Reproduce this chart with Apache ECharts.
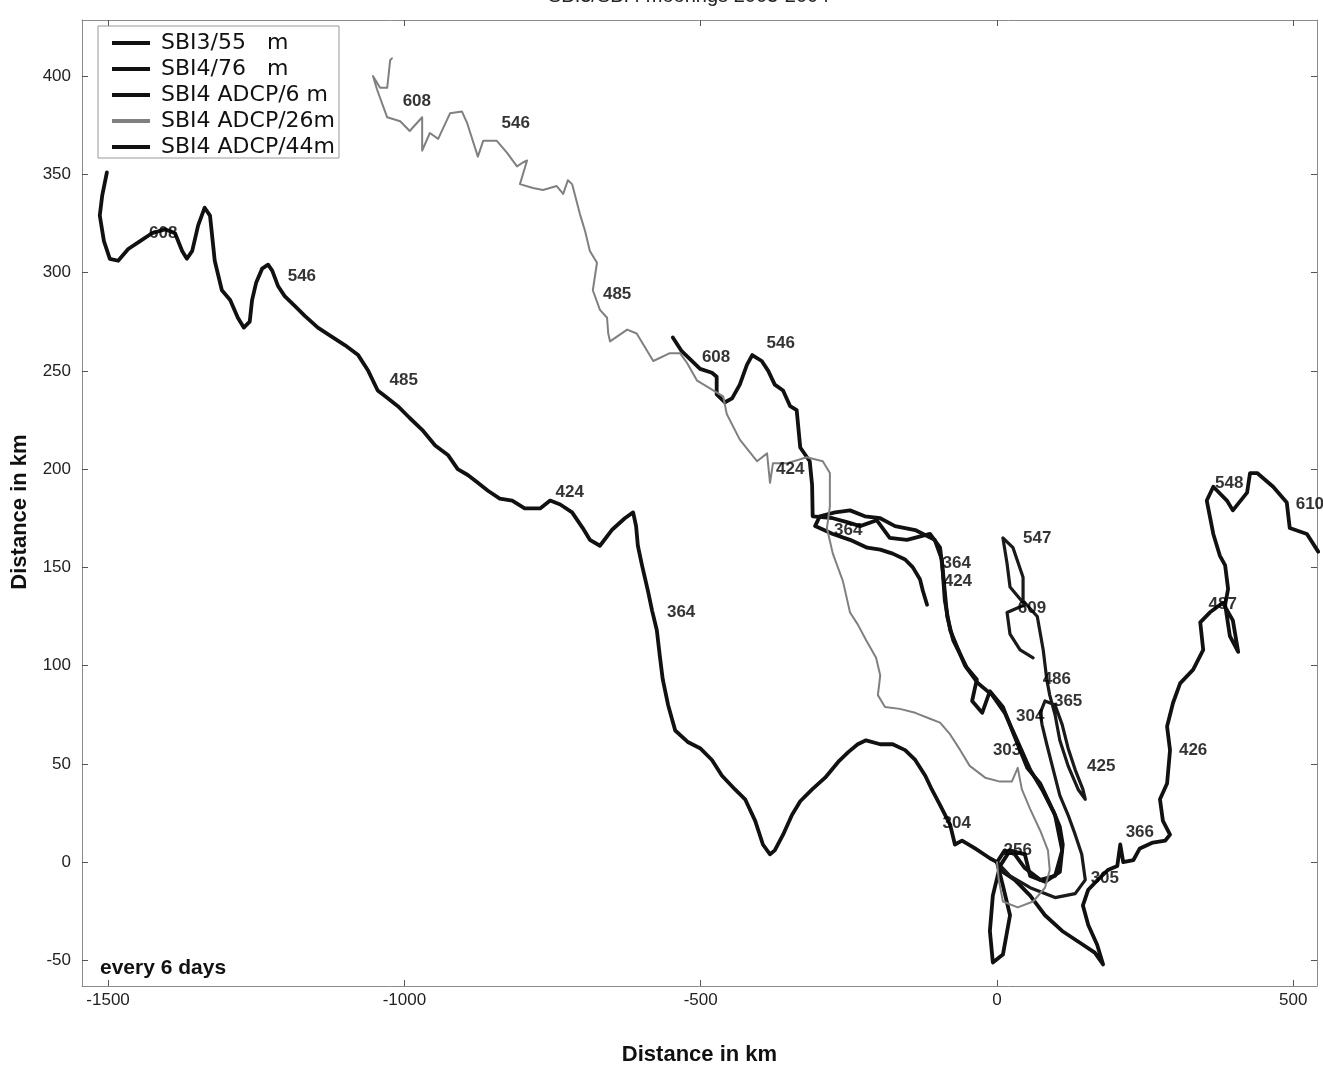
<!DOCTYPE html>
<html>
<head>
<meta charset="utf-8">
<title>Progressive vector diagram</title>
<script src="https://cdn.jsdelivr.net/npm/echarts@6/dist/echarts.min.js"></script>
<style>
  html, body { margin: 0; padding: 0; background: #fff; }
  #chart { width: 1323px; height: 1065px; }
</style>
</head>
<body>
<div id="chart"></div>
<script>
// Tick positions (km)
const xTicks = [-1500, -1000, -500, 0, 500];
const yTicks = [-50, 0, 50, 100, 150, 200, 250, 300, 350, 400];

// Series names in legend order
const trackNames = ['SBI3/55   m', 'SBI4/76   m', 'SBI4 ADCP/6 m', 'SBI4 ADCP/26m', 'SBI4 ADCP/44m'];

// Progressive vector tracks, [east km, north km], starting at the mooring
const sbi3_55 = [[0,0],[10,-5],[30,-9],[56,-17],[81,-27],[110,-35],[140,-41],[165,-46],[179,-52],[169,-42],[154,-32],[145,-22],[154,-14],[170,-9],[187,-4],[203,-2],[208,9],[213,0],[230,1],[241,7],[263,10],[284,11],[292,14],[280,21],[275,32],[287,40],[292,57],[287,69],[297,81],[309,91],[331,98],[348,108],[343,122],[359,127],[381,132],[398,123],[407,107],[393,115],[385,131],[390,139],[385,151],[376,156],[365,167],[354,184],[365,191],[388,184],[398,179],[422,188],[427,198],[439,198],[466,191],[489,183],[494,170],[523,167],[542,158]];

const sbi4_76 = [[0,0],[22,-7],[56,-13],[98,-18],[132,-16],[149,-9],[143,4],[132,14],[120,24],[106,34],[95,47],[84,60],[76,70],[73,76],[81,82],[98,80],[110,70],[120,58],[132,47],[145,37],[149,32],[137,37],[120,49],[106,62],[98,75],[89,85],[84,93],[78,108],[68,125],[44,133],[44,145],[27,160],[10,165],[17,152],[22,140],[47,131],[17,127],[22,116],[39,108],[61,104]];

const adcp_6 = [[0,0],[-12,2],[-37,7],[-59,11],[-71,9],[-79,19],[-96,29],[-110,37],[-121,44],[-138,52],[-155,57],[-176,60],[-197,60],[-221,62],[-235,60],[-251,56],[-268,51],[-290,43],[-312,37],[-332,31],[-346,24],[-361,14],[-375,6],[-383,4],[-395,9],[-408,21],[-425,32],[-442,37],[-464,44],[-481,52],[-501,58],[-521,61],[-543,67],[-555,80],[-564,93],[-569,105],[-574,118],[-582,128],[-589,138],[-599,151],[-606,161],[-609,171],[-614,178],[-628,175],[-650,169],[-670,161],[-687,164],[-699,170],[-717,178],[-737,182],[-754,184],[-771,180],[-797,180],[-818,184],[-839,185],[-859,189],[-876,193],[-893,197],[-910,200],[-926,207],[-948,212],[-970,220],[-991,226],[-1011,232],[-1028,236],[-1045,240],[-1061,250],[-1078,258],[-1100,263],[-1126,268],[-1146,272],[-1168,278],[-1185,283],[-1202,288],[-1213,293],[-1223,301],[-1230,304],[-1240,302],[-1250,295],[-1257,286],[-1261,275],[-1271,272],[-1281,277],[-1294,286],[-1308,291],[-1320,306],[-1328,329],[-1337,333],[-1348,324],[-1358,311],[-1367,307],[-1375,311],[-1387,320],[-1404,322],[-1426,320],[-1446,316],[-1466,312],[-1483,306],[-1497,307],[-1507,316],[-1514,329],[-1510,339],[-1502,351]];

const adcp_26 = [[0,0],[3,-9],[10,-20],[35,-23],[61,-20],[81,-13],[89,-4],[86,6],[73,16],[56,27],[42,37],[35,48],[25,41],[5,41],[-20,43],[-46,49],[-62,57],[-79,65],[-96,71],[-113,73],[-138,76],[-164,78],[-189,79],[-201,85],[-197,95],[-204,104],[-221,113],[-235,121],[-248,127],[-260,143],[-277,157],[-287,170],[-282,181],[-282,198],[-294,204],[-321,206],[-354,203],[-378,203],[-383,193],[-388,208],[-405,204],[-434,215],[-456,228],[-462,237],[-506,245],[-523,254],[-535,259],[-552,259],[-580,255],[-608,269],[-624,271],[-653,265],[-656,269],[-658,277],[-670,281],[-682,291],[-675,305],[-687,311],[-695,321],[-704,330],[-717,345],[-724,347],[-732,340],[-743,344],[-766,342],[-783,343],[-805,345],[-793,357],[-800,356],[-810,354],[-827,361],[-844,367],[-867,367],[-876,359],[-894,376],[-903,382],[-923,381],[-943,368],[-957,371],[-970,362],[-970,379],[-991,372],[-1007,377],[-1029,379],[-1046,393],[-1053,400],[-1041,394],[-1029,394],[-1024,408],[-1021,409]];

const adcp_44 = [[0,0],[10,-12],[22,-27],[10,-47],[-7,-51],[-12,-35],[-7,-17],[5,-2],[22,6],[47,4],[56,-7],[81,-10],[106,-5],[111,9],[106,18],[95,26],[73,40],[51,48],[27,66],[10,79],[-12,87],[-25,76],[-42,82],[-34,93],[-51,99],[-74,113],[-84,125],[-91,147],[-96,160],[-113,167],[-152,164],[-181,165],[-203,174],[-231,171],[-253,173],[-277,175],[-311,176],[-312,192],[-316,204],[-332,211],[-338,230],[-349,232],[-361,240],[-375,243],[-386,250],[-397,255],[-413,258],[-422,253],[-434,243],[-447,236],[-459,234],[-473,238],[-473,247],[-481,249],[-501,251],[-518,256],[-532,260],[-547,267]];

const sbi4_extra = [[0,0],[13,6],[30,4],[47,-3],[73,-9],[98,-7],[110,6],[98,24],[76,37],[56,47],[34,62],[13,76],[-8,85],[-32,91],[-54,100],[-79,118],[-88,133],[-93,154],[-105,164],[-138,169],[-172,171],[-197,175],[-223,176],[-248,179],[-273,178],[-299,176],[-307,171],[-277,167],[-248,164],[-219,160],[-197,159],[-176,157],[-155,154],[-142,150],[-130,144],[-125,138],[-118,131]];

// Year-day annotations along each track, [east km, north km, day]
const daysSbi3_55 = [[182,-8,'305'],[241,15,'366'],[331,57,'426'],[381,131,'487'],[392,193,'548'],[528,182,'610']];
const daysSbi4_76 = [[56,74,'304'],[120,82,'365'],[176,49,'425'],[101,93,'486'],[68,165,'547'],[59,129,'609']];
const daysAdcp6 = [[-68,20,'304'],[-533,127,'364'],[-721,188,'424'],[-1001,245,'485'],[-1173,298,'546'],[-1407,320,'608']];
const daysAdcp26 = [[17,57,'303'],[-349,200,'424'],[-641,289,'485'],[-812,376,'546'],[-979,387,'608']];
const daysAdcp44 = [[35,6,'256'],[-68,152,'364'],[-365,264,'546'],[-474,257,'608']];
const daysExtra = [[-251,169,'364'],[-66,143,'424']];

const FONT = '"Liberation Sans", Arial, Helvetica, sans-serif';
const WIDE = '"DejaVu Sans", "Liberation Sans", sans-serif';

function track(name, data, color, width, z) {
  return {
    name: name, type: 'line', data: data, symbol: 'none', z: z,
    lineStyle: { color: color, width: width, join: 'round', cap: 'round' },
    itemStyle: { color: color },
    animation: false, silent: true
  };
}
function dayLabels(data) {
  return {
    type: 'scatter', data: data, symbolSize: 0, z: 6,
    label: {
      show: true, position: 'inside', formatter: p => p.value[2],
      fontFamily: FONT, fontWeight: 'bold', fontSize: 17, color: '#000'
    },
    animation: false, silent: true
  };
}

const axisLine = { show: true, onZero: false, lineStyle: { color: '#8a8a8a', width: 1 } };
const tick = v => ({ show: true, inside: true, length: 6, customValues: v, lineStyle: { color: '#555' } });
const plain = v => String(v);

const chart = echarts.init(document.getElementById('chart'), null, { renderer: 'canvas' });
chart.setOption({
  backgroundColor: '#fff',
  animation: false,
  title: {
    text: 'SBI3/SBI4 moorings 2003-2004',
    left: 543, top: -19,
    textStyle: { fontFamily: FONT, fontSize: 20, fontWeight: 'normal', color: '#222' }
  },
  grid: { left: 82, right: 6, top: 20, bottom: 79, containLabel: false, outerBoundsMode: 'none' },
  legend: {
    data: trackNames.map((n, i) => ({ name: n, itemStyle: { color: i === 3 ? '#808080' : '#111' } })),
    orient: 'vertical', left: 98, top: 26,
    padding: [6, 4, 0, 14],
    icon: 'rect', itemWidth: 38, itemHeight: 4, itemGap: 4,
    backgroundColor: '#fff', borderColor: '#999', borderWidth: 1,
    textStyle: { fontFamily: WIDE, fontSize: 22, color: '#111', padding: [0, 0, 0, 6] },
    selectedMode: false
  },
  xAxis: [
    {
      type: 'value', min: -1544, max: 540, position: 'bottom',
      axisLine: axisLine, axisTick: tick(xTicks), splitLine: { show: false },
      axisLabel: { customValues: xTicks, formatter: plain, fontFamily: FONT, fontSize: 17, color: '#222', margin: 6 },
      name: 'Distance in km', nameLocation: 'middle', nameGap: 58,
      nameTextStyle: { fontFamily: FONT, fontSize: 22, fontWeight: 'bold', color: '#111' }
    },
    {
      type: 'value', min: -1544, max: 540, position: 'top',
      axisLine: axisLine, axisTick: tick(xTicks), splitLine: { show: false },
      axisLabel: { show: false }
    }
  ],
  yAxis: [
    {
      type: 'value', min: -63, max: 428.5, position: 'left',
      axisLine: axisLine, axisTick: tick(yTicks), splitLine: { show: false },
      axisLabel: { customValues: yTicks, formatter: plain, fontFamily: FONT, fontSize: 17, color: '#222', margin: 11 },
      name: 'Distance in km', nameLocation: 'middle', nameGap: 51, nameRotate: 90,
      nameTextStyle: { fontFamily: FONT, fontSize: 22, fontWeight: 'bold', color: '#111', padding: [0, 18, 0, 0] }
    },
    {
      type: 'value', min: -63, max: 428.5, position: 'right',
      axisLine: axisLine, axisTick: tick(yTicks), splitLine: { show: false },
      axisLabel: { show: false }
    }
  ],
  graphic: [
    {
      type: 'text', left: 100, top: 958, z: 10,
      style: { text: 'every 6 days', font: 'bold 21px ' + FONT, fill: '#111' }
    }
  ],
  series: [
    track(trackNames[0], sbi3_55, '#111', 3.8, 2),
    track(trackNames[1], sbi4_76, '#1a1a1a', 3.2, 2),
    track(trackNames[2], adcp_6, '#111', 3.8, 2),
    track(trackNames[4], adcp_44, '#111', 3.8, 2),
    track('SBI4 record 2', sbi4_extra, '#111', 3.8, 2),
    track(trackNames[3], adcp_26, '#808080', 2, 3),
    dayLabels(daysSbi3_55),
    dayLabels(daysSbi4_76),
    dayLabels(daysAdcp6),
    dayLabels(daysAdcp26),
    dayLabels(daysAdcp44),
    dayLabels(daysExtra)
  ]
});
</script>
</body>
</html>
